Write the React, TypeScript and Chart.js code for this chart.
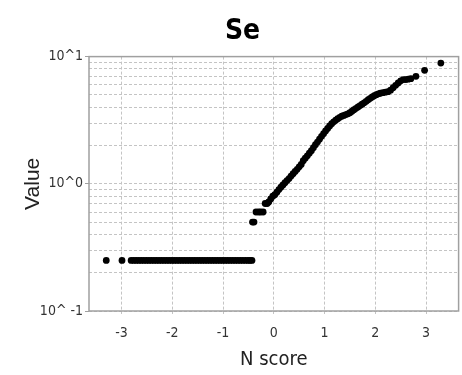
import React, { useEffect, useRef } from "react";
import { Chart, registerables } from "chart.js";

Chart.register(...registerables);

const chartTitle = "Se";
const xAxisTitle = "N score";
const yAxisTitle = "Value";

const xTickValues = [-3, -2, -1, 0, 1, 2, 3];
const yTickValues = [
  0.1, 0.2, 0.3, 0.4, 0.5, 0.6, 0.7, 0.8, 0.9,
  1, 2, 3, 4, 5, 6, 7, 8, 9, 10,
];
const yMajorValues = [0.1, 1, 10];
const yMajorLabels = ["10^ -1", "10^0", "10^1"];

// N scores (x) and values (y)
const nScores = [
  -3.3, -2.99, -2.81, -2.76, -2.71, -2.66, -2.61, -2.56, -2.51, -2.46, -2.41,
  -2.36, -2.31, -2.26, -2.21, -2.16, -2.11, -2.06, -2.01, -1.96, -1.91, -1.86,
  -1.81, -1.76, -1.71, -1.66, -1.61, -1.56, -1.51, -1.46, -1.41, -1.36, -1.31,
  -1.26, -1.21, -1.16, -1.11, -1.06, -1.01, -0.96, -0.91, -0.86, -0.81, -0.76,
  -0.71, -0.66, -0.61, -0.56, -0.51, -0.47, -0.43,
  -0.42, -0.39, -0.35, -0.3, -0.26, -0.21, -0.17, -0.13, -0.1, -0.06, -0.02,
  0.02, 0.06, 0.1, 0.14, 0.18, 0.22, 0.26, 0.3, 0.34, 0.38, 0.42, 0.46, 0.5,
  0.54, 0.58, 0.62, 0.66, 0.7, 0.74, 0.78, 0.82, 0.86, 0.9, 0.94, 0.98, 1.02,
  1.06, 1.1, 1.14, 1.18, 1.22, 1.26, 1.3, 1.34, 1.38, 1.42, 1.46, 1.5, 1.54,
  1.58, 1.62, 1.66, 1.7, 1.74, 1.78, 1.82, 1.86, 1.9, 1.94, 1.98, 2.02, 2.06,
  2.1, 2.15, 2.2, 2.25, 2.3, 2.35, 2.4, 2.45, 2.5, 2.55, 2.6, 2.65, 2.7, 2.8,
  2.97, 3.29,
];
const values = [
  0.25, 0.25, 0.25, 0.25, 0.25, 0.25, 0.25, 0.25, 0.25, 0.25, 0.25,
  0.25, 0.25, 0.25, 0.25, 0.25, 0.25, 0.25, 0.25, 0.25, 0.25, 0.25,
  0.25, 0.25, 0.25, 0.25, 0.25, 0.25, 0.25, 0.25, 0.25, 0.25, 0.25,
  0.25, 0.25, 0.25, 0.25, 0.25, 0.25, 0.25, 0.25, 0.25, 0.25, 0.25,
  0.25, 0.25, 0.25, 0.25, 0.25, 0.25, 0.25,
  0.5, 0.5, 0.6, 0.6, 0.6, 0.6, 0.7, 0.7, 0.72, 0.76, 0.8,
  0.82, 0.86, 0.9, 0.94, 0.98, 1.02, 1.06, 1.1, 1.15, 1.2, 1.25, 1.3, 1.36,
  1.42, 1.52, 1.59, 1.66, 1.74, 1.82, 1.92, 2.03, 2.13, 2.24, 2.36, 2.48, 2.6,
  2.72, 2.85, 2.97, 3.07, 3.16, 3.25, 3.33, 3.4, 3.45, 3.5, 3.55, 3.62, 3.72,
  3.82, 3.92, 4.02, 4.12, 4.22, 4.33, 4.45, 4.58, 4.7, 4.82, 4.93, 5.02, 5.1,
  5.15, 5.2, 5.25, 5.3, 5.45, 5.7, 5.95, 6.2, 6.45, 6.6, 6.6, 6.65, 6.7, 7.0,
  7.8, 8.9,
];

const NARROW = "'DejaVu Sans Condensed', 'Liberation Sans Narrow', sans-serif";
const REGULAR = "'Liberation Sans', Arial, sans-serif";
const GRID = "#c4c4c4";
const FRAME = "#a0a0a0";

const framePlugin = {
  id: "frame",
  afterDraw(chart: any) {
    const { ctx, chartArea } = chart;
    ctx.save();
    ctx.strokeStyle = FRAME;
    ctx.lineWidth = 1.5;
    ctx.strokeRect(chartArea.left, chartArea.top, chartArea.right - chartArea.left, chartArea.bottom - chartArea.top);
    ctx.restore();
  },
};

export default function App() {
  const ref = useRef<HTMLCanvasElement | null>(null);

  useEffect(() => {
    if (!ref.current) return;
    const points = nScores.map((x, i) => ({ x, y: values[i] }));
    const chart = new Chart(ref.current, {
      type: "scatter",
      data: {
        datasets: [
          {
            data: points,
            backgroundColor: "#000000",
            borderWidth: 0,
            pointRadius: 3.4,
            pointHoverRadius: 3.4,
          },
        ],
      },
      plugins: [framePlugin],
      options: {
        responsive: false,
        animation: false,
        events: [],
        layout: { padding: { left: 26, right: 3, top: 0, bottom: 0 } },
        plugins: {
          legend: { display: false },
          tooltip: { enabled: false },
          title: {
            display: true,
            text: chartTitle,
            color: "#000000",
            font: { family: NARROW, size: 28, weight: "bold" },
            padding: { top: 15, bottom: 8 },
          },
        },
        scales: {
          x: {
            type: "linear",
            min: -3.64,
            max: 3.64,
            afterBuildTicks: (scale: any) => {
              scale.ticks = xTickValues.map((v) => ({ value: v }));
            },
            afterFit: (scale: any) => {
              scale.height = 64;
            },
            ticks: {
              autoSkip: false,
              maxRotation: 0,
              color: "#333333",
              font: { family: NARROW, size: 14 },
              padding: 10,
              callback: (v: any) => String(v),
            },
            grid: {
              color: GRID,
              lineWidth: 1,
              tickLength: 4,
              tickColor: GRID,
              tickBorderDash: [3, 2],
            },
            border: { display: false, dash: [3, 2] },
            title: {
              display: true,
              text: xAxisTitle,
              color: "#222222",
              font: { family: NARROW, size: 20 },
              padding: { top: 0, bottom: 3 },
            },
          },
          y: {
            type: "logarithmic",
            min: 0.1,
            max: 10,
            afterBuildTicks: (scale: any) => {
              scale.ticks = yTickValues.map((v) => ({ value: v, major: yMajorValues.includes(v) }));
            },
            afterFit: (scale: any) => {
              scale.width = 63;
            },
            ticks: {
              autoSkip: false,
              color: "#333333",
              font: { family: NARROW, size: 14 },
              padding: 2,
              callback: (v: any) => {
                const idx = yMajorValues.findIndex((m) => Math.abs(m - Number(v)) < 1e-9);
                return idx >= 0 ? yMajorLabels[idx] : "";
              },
            },
            grid: {
              color: GRID,
              lineWidth: 1,
              tickLength: 4,
              tickColor: (ctx: any) =>
                ctx.tick && yMajorValues.some((m) => Math.abs(m - ctx.tick.value) < 1e-9) ? FRAME : "rgba(0,0,0,0)",
            },
            border: { display: false, dash: [3, 2] },
            title: {
              display: true,
              text: yAxisTitle,
              color: "#222222",
              font: { family: REGULAR, size: 21 },
              padding: { top: -5, bottom: 0 },
            },
          },
        },
      },
    });
    return () => chart.destroy();
  }, []);

  return (
    <div style={{ position: "fixed", left: 0, top: 0, width: 462, height: 375, background: "#ffffff" }}>
      <canvas ref={ref} width={462} height={375} style={{ display: "block" }} />
    </div>
  );
}
